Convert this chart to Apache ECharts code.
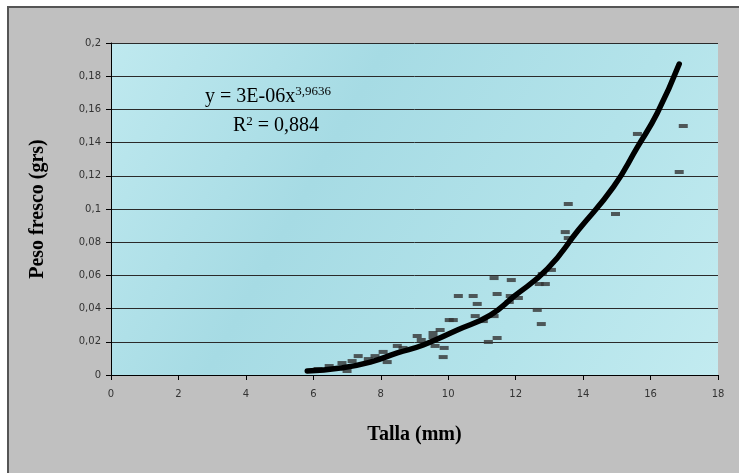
<!DOCTYPE html>
<html>
<head>
<meta charset="utf-8">
<script src="https://cdn.jsdelivr.net/npm/echarts@6/dist/echarts.min.js"></script>
<style>
html,body{margin:0;padding:0;background:#ffffff;}
#chart{width:739px;height:473px;}
</style>
</head>
<body>
<div id="chart"></div>
<script>
// Observed points: talla (mm) and peso fresco (grs)
var tallaObs = [6.14, 6.47, 6.85, 7.00, 7.15, 7.33, 7.63, 7.83, 8.07, 8.19, 8.49, 8.66, 9.08, 9.20, 9.55, 9.55, 9.76, 9.61, 9.88, 9.85,
  10.03, 10.15, 10.30, 10.74, 10.86, 10.80, 11.04, 11.36, 11.45, 11.19, 11.45, 11.36, 11.87, 11.84, 12.08, 11.81,
  12.64, 12.76, 12.70, 12.88, 12.79, 13.06, 13.47, 13.56, 13.56, 14.96, 15.61, 16.97, 16.85];
var pesoObs = [0.0036, 0.0054, 0.0072, 0.0024, 0.0084, 0.0114, 0.0096, 0.0114, 0.0139, 0.0078, 0.0175, 0.0163, 0.0235, 0.0211, 0.0253, 0.0229, 0.0271, 0.0175, 0.0163, 0.0108,
  0.0331, 0.0331, 0.0476, 0.0476, 0.0428, 0.0355, 0.0325, 0.0355, 0.0488, 0.0199, 0.0223, 0.0584, 0.0572, 0.0476, 0.0464, 0.0440,
  0.0392, 0.0307, 0.0548, 0.0548, 0.0608, 0.0633, 0.0861, 0.0825, 0.1030, 0.0970, 0.1452, 0.1500, 0.1223];

// Trend line (potential fit)
var trendX = [5.82, 6.80, 7.69, 8.49, 9.26, 10.27, 11.25, 11.93, 12.94, 13.86, 14.90, 15.61, 16.20, 16.85];
var trendY = [0.0024, 0.0042, 0.0078, 0.0133, 0.0181, 0.0271, 0.0361, 0.0470, 0.0639, 0.0873, 0.1133, 0.1373, 0.1578, 0.1873];

var xTicks = {min: 0, max: 18, interval: 2};
var yTicks = {min: 0, max: 0.2, interval: 0.02};

var scatterData = tallaObs.map(function (x, i) { return [x, pesoObs[i]]; });
var trendData = trendX.map(function (x, i) { return [x, trendY[i]]; });

var chart = echarts.init(document.getElementById('chart'));
var serif = '"Liberation Serif", "Times New Roman", serif';
chart.setOption({
  backgroundColor: '#ffffff',
  animation: false,
  graphic: [
    {type: 'rect', z: -10, shape: {x: 8, y: 7, width: 760, height: 500},
     style: {fill: '#c0c0c0', stroke: '#555555', lineWidth: 2}},
    {type: 'text', left: 205, top: 85, z: 100,
     style: {text: '{m|y = 3E-06x}{s|3,9636}', rich: {
       m: {fontFamily: serif, fontSize: 20, fill: '#000'},
       s: {fontFamily: serif, fontSize: 13, fill: '#000', padding: [0, 0, 10, 0]}
     }}},
    {type: 'text', left: 233, top: 115, z: 100,
     style: {text: '{m|R}{s|2}{m| = 0,884}', rich: {
       m: {fontFamily: serif, fontSize: 20, fill: '#000'},
       s: {fontFamily: serif, fontSize: 13, fill: '#000', padding: [0, 0, 8, 0]}
     }}}
  ],
  grid: {left: 111, right: 21, top: 43, bottom: 98, show: true, borderWidth: 0,
    backgroundColor: new echarts.graphic.LinearGradient(0, 0, 1, 1, [
      {offset: 0, color: '#bfe9ef'},
      {offset: 0.35, color: '#a6dbe4'},
      {offset: 0.7, color: '#b3e3ea'},
      {offset: 1, color: '#c2ebf0'}
    ])},
  xAxis: {
    type: 'value', min: xTicks.min, max: xTicks.max, interval: xTicks.interval,
    name: 'Talla (mm)', nameLocation: 'middle', nameGap: 50,
    nameTextStyle: {fontFamily: serif, fontWeight: 'bold', fontSize: 20, color: '#000'},
    axisLine: {show: true, onZero: false, lineStyle: {color: '#000', width: 1}},
    axisTick: {show: true, inside: false, length: 5, lineStyle: {color: '#000'}},
    axisLabel: {color: '#333', fontFamily: '"DejaVu Sans", sans-serif', fontSize: 10, margin: 14},
    splitLine: {show: false}
  },
  yAxis: {
    type: 'value', min: yTicks.min, max: yTicks.max, interval: yTicks.interval,
    name: 'Peso fresco (grs)', nameLocation: 'middle', nameGap: 63, nameRotate: 90,
    nameTextStyle: {fontFamily: serif, fontWeight: 'bold', fontSize: 20, color: '#000'},
    axisLine: {show: true, lineStyle: {color: '#000', width: 1}},
    axisTick: {show: true, inside: false, length: 5, lineStyle: {color: '#000'}},
    axisLabel: {color: '#333', fontFamily: '"DejaVu Sans", sans-serif', fontSize: 10, margin: 10,
      formatter: function (v) { return String(+v.toFixed(2)).replace('.', ','); }},
    splitLine: {show: true, lineStyle: {color: '#2a2a2a', width: 1}}
  },
  series: [
    {type: 'scatter', data: scatterData, symbol: 'rect', symbolSize: [9, 4],
     itemStyle: {color: '#333333'}, z: 2},
    {type: 'line', data: trendData, smooth: true, showSymbol: false, symbol: 'none',
     lineStyle: {color: '#000', width: 5.5, cap: 'round'}, z: 3}
  ]
});
</script>
</body>
</html>
